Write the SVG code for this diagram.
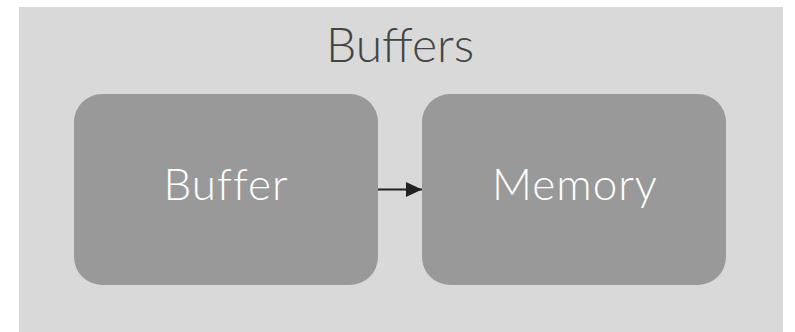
<svg xmlns="http://www.w3.org/2000/svg" width="795" height="332" viewBox="0 0 795 332">
  <defs>
    <marker id="arrow" markerWidth="16" markerHeight="15" refX="16" refY="7.5" orient="auto" markerUnits="userSpaceOnUse">
      <path d="M0,0 L16,7.5 L0,15 Z" fill="#222222"/>
    </marker>
    <style>
      .group-bg { fill: #d9d9d9; }
      .node-box { fill: #999999; }
      .title { font-family: Lato, "Open Sans", sans-serif; font-size: 48px; fill: #444444; text-anchor: middle; font-weight: 300; }
      .label { font-family: Lato, "Open Sans", sans-serif; font-size: 44px; letter-spacing: 1px; fill: #ffffff; text-anchor: middle; font-weight: 300; }
      .edge { stroke: #222222; stroke-width: 2; fill: none; }
    </style>
  </defs>

  <!-- cluster container -->
  <g id="buffers">
    <rect class="group-bg" x="19" y="7" width="764" height="330"/>
    <text class="title" x="400" y="62">Buffers</text>
  </g>

  <g id="buffer">
    <rect class="node-box" x="74" y="94" width="304" height="191" rx="28" ry="28"/>
    <text class="label" x="226" y="200">Buffer</text>
  </g>

  <g id="memory">
    <rect class="node-box" x="422" y="94" width="304" height="191" rx="28" ry="28"/>
    <text class="label" x="575" y="200">Memory</text>
  </g>

  <g id="connectors">
    <line class="edge" x1="378" y1="189.5" x2="422" y2="189.5" marker-end="url(#arrow)"/>
  </g>
</svg>
